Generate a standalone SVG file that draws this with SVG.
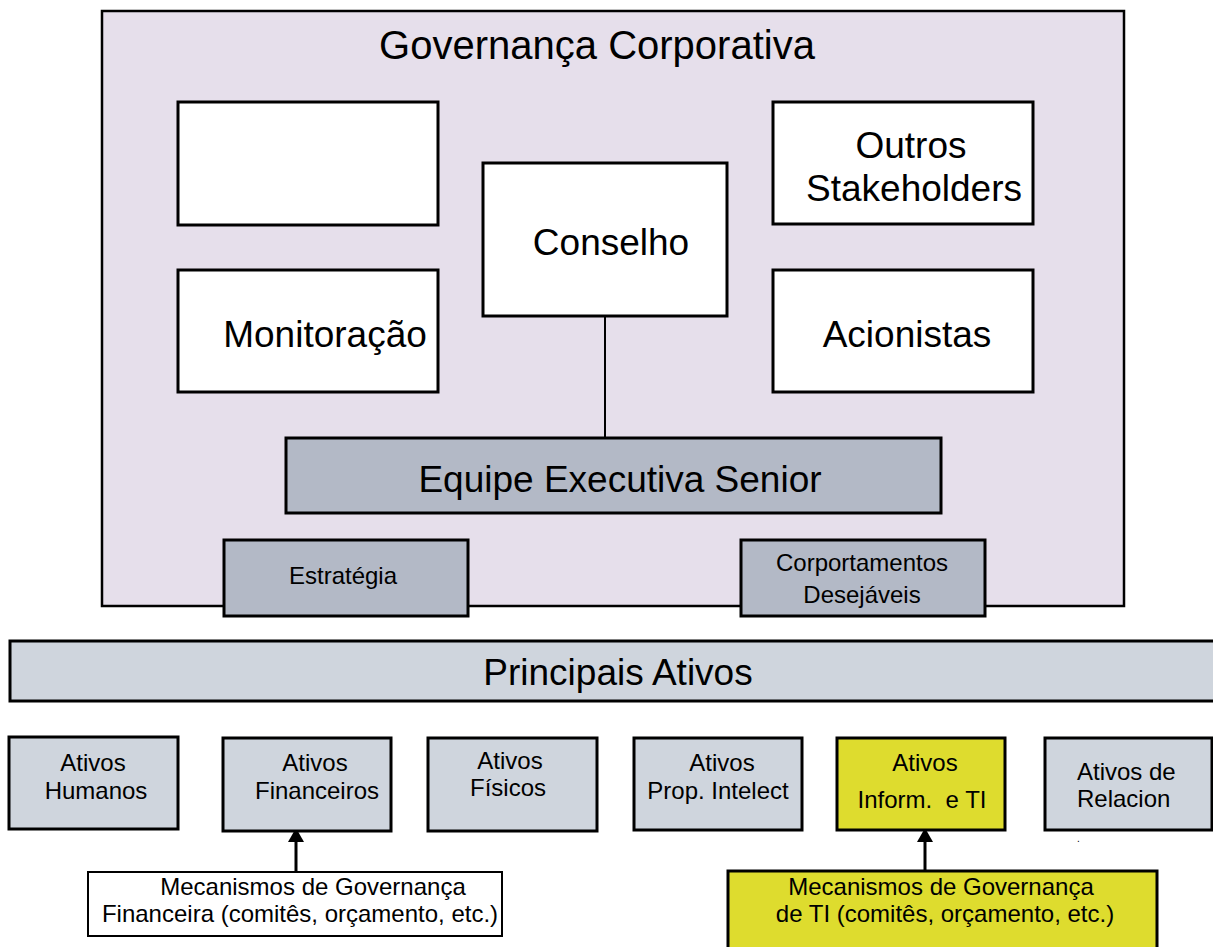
<svg xmlns="http://www.w3.org/2000/svg" width="1213" height="947" viewBox="0 0 1213 947">
<style>
text{font-family:"Liberation Sans",Arial,sans-serif;fill:#000}
.b{stroke:#000;stroke-width:3}
.w{fill:#fff}
.g{fill:#B3B9C6}
.l{fill:#CFD5DD}
.y{fill:#DEDC2E}
.big{font-size:37px}
.sm{font-size:24px}
.mid{text-anchor:middle}
</style>
<rect width="1213" height="947" fill="#fff"/>
<g id="governanca">
<rect x="102" y="11" width="1022" height="595" fill="#E6DFEB" stroke="#000" stroke-width="2.5"/>
<text x="597" y="59" class="mid" font-size="40">Governança Corporativa</text>
</g>
<g id="connectors">
<line x1="605" y1="316" x2="605" y2="438" stroke="#000" stroke-width="2"/>
<path d="M296,872 V840" stroke="#000" stroke-width="3"/>
<path d="M288,842 L296,828 L304,842 z" fill="#000"/>
<path d="M925,871 V840" stroke="#000" stroke-width="3"/>
<path d="M917,842 L925,828 L933,842 z" fill="#000"/>
</g>
<g id="vazio"><rect x="178" y="102" width="260" height="123" class="w b"/></g>
<g id="outros"><rect x="773" y="102" width="260" height="122" class="w b"/>
<text x="911" y="158" class="mid big">Outros</text>
<text x="914" y="201" class="mid big">Stakeholders</text></g>
<g id="conselho"><rect x="483" y="163" width="244" height="153" class="w b"/>
<text x="611" y="255" class="mid big">Conselho</text></g>
<g id="monitoracao"><rect x="178" y="270" width="260" height="122" class="w b"/>
<text x="325" y="347" class="mid big">Monitoração</text></g>
<g id="acionistas"><rect x="773" y="270" width="260" height="122" class="w b"/>
<text x="907" y="347" class="mid big">Acionistas</text></g>
<g id="equipe"><rect x="286" y="438" width="655" height="75" class="g b"/>
<text x="620" y="492" class="mid big">Equipe Executiva Senior</text></g>
<g id="estrategia"><rect x="224" y="540" width="244" height="76" class="g b"/>
<text x="343" y="584" class="mid sm">Estratégia</text></g>
<g id="comportamentos"><rect x="741" y="540" width="244" height="76" class="g b"/>
<text x="862" y="571" class="mid sm">Corportamentos</text>
<text x="862" y="603" class="mid sm">Desejáveis</text></g>
<g id="principais"><rect x="10" y="641" width="1215" height="60" class="l b"/>
<text x="618" y="685" class="mid big">Principais Ativos</text></g>
<g id="humanos"><rect x="9" y="737" width="169" height="92" class="l b"/>
<text x="93" y="771" class="mid sm">Ativos</text>
<text x="96" y="799" class="mid sm">Humanos</text></g>
<g id="financeiros"><rect x="223" y="738" width="168" height="93" class="l b"/>
<text x="315" y="771" class="mid sm">Ativos</text>
<text x="317" y="799" class="mid sm">Financeiros</text></g>
<g id="fisicos"><rect x="428" y="738" width="169" height="93" class="l b"/>
<text x="510" y="769" class="mid sm">Ativos</text>
<text x="508" y="796" class="mid sm">Físicos</text></g>
<g id="intelect"><rect x="634" y="738" width="168" height="92" class="l b"/>
<text x="722" y="771" class="mid sm">Ativos</text>
<text x="718" y="799" class="mid sm">Prop. Intelect</text></g>
<g id="informacao"><rect x="837" y="738" width="168" height="92" class="y b"/>
<text x="925" y="771" class="mid sm">Ativos</text>
<text x="922" y="808" class="mid sm" xml:space="preserve">Inform.  e TI</text></g>
<g id="relacion"><rect x="1045" y="738" width="167" height="92" class="l b"/>
<text x="1077" y="780" class="sm">Ativos de</text>
<text x="1077" y="807" class="sm">Relacion</text>
<text x="1077" y="842" font-size="10">.</text></g>
<g id="mec-fin"><rect x="88" y="872" width="414" height="64" class="w" stroke="#000" stroke-width="2"/>
<text x="313" y="895" class="mid sm">Mecanismos de Governança</text>
<text x="300" y="922" class="mid sm">Financeira (comitês, orçamento, etc.)</text></g>
<g id="mec-ti"><rect x="728" y="871" width="429" height="90" class="y b"/>
<text x="941" y="895" class="mid sm">Mecanismos de Governança</text>
<text x="945" y="922" class="mid sm">de TI (comitês, orçamento, etc.)</text></g>
</svg>
